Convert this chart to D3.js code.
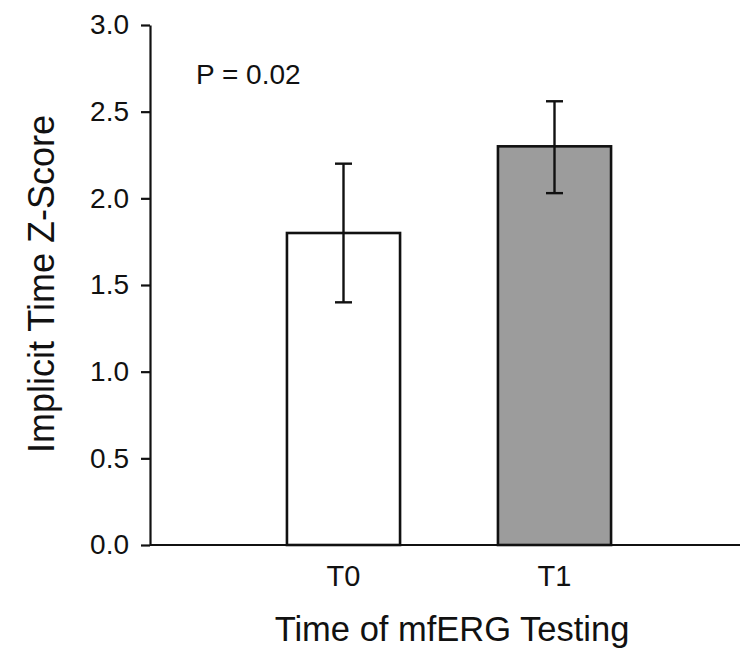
<!DOCTYPE html>
<html>
<head>
<meta charset="utf-8">
<script src="https://cdn.jsdelivr.net/npm/d3@7"></script>
<style>
  html, body { margin: 0; padding: 0; background: #fff; }
  svg text { font-family: "Liberation Sans", Arial, sans-serif; fill: #111; }
</style>
</head>
<body>
<svg id="chart" width="753" height="662"></svg>
<script>
const categories = ["T0", "T1"];
const means = [1.8, 2.3];
const errLow = [1.4, 2.03];
const errHigh = [2.2, 2.56];
const fills = ["#ffffff", "#9c9c9c"];
const yTicks = [0.0, 0.5, 1.0, 1.5, 2.0, 2.5, 3.0];
const pLabel = "P = 0.02";
const xTitle = "Time of mfERG Testing";
const yTitle = "Implicit Time Z-Score";

const svg = d3.select("#chart");
const plotLeft = 150, plotRight = 740, plotTop = 25, plotBottom = 545;

const y = d3.scaleLinear().domain([0, 3]).range([plotBottom, plotTop]);
const x = d3.scaleBand().domain(categories).range([238, 660])
  .paddingInner(0.464).paddingOuter(0.232);

// bars
svg.selectAll("rect.bar").data(categories).enter().append("rect")
  .attr("class", "bar")
  .attr("x", d => x(d))
  .attr("y", (d, i) => y(means[i]))
  .attr("width", x.bandwidth())
  .attr("height", (d, i) => y(0) - y(means[i]))
  .attr("fill", (d, i) => fills[i])
  .attr("stroke", "#111")
  .attr("stroke-width", 2.6);

// error bars
const cap = 8.5;
categories.forEach((c, i) => {
  const cx = x(c) + x.bandwidth() / 2;
  const g = svg.append("g").attr("stroke", "#111").attr("stroke-width", 2.4);
  g.append("line").attr("x1", cx).attr("x2", cx).attr("y1", y(errLow[i])).attr("y2", y(errHigh[i]));
  g.append("line").attr("x1", cx - cap).attr("x2", cx + cap).attr("y1", y(errLow[i])).attr("y2", y(errLow[i]));
  g.append("line").attr("x1", cx - cap).attr("x2", cx + cap).attr("y1", y(errHigh[i])).attr("y2", y(errHigh[i]));
});

// y axis
const yAxis = d3.axisLeft(y).tickValues(yTicks).tickFormat(d3.format(".1f"))
  .tickSize(9).tickSizeOuter(0).tickPadding(12);
const gy = svg.append("g").attr("transform", `translate(${plotLeft},0)`).call(yAxis);
gy.select(".domain").attr("stroke", "#111").attr("stroke-width", 2.2);
gy.selectAll(".tick line").attr("stroke", "#111").attr("stroke-width", 2.2);
gy.selectAll(".tick text").attr("font-size", 28).attr("fill", "#111")
  .attr("font-family", "Liberation Sans, Arial, sans-serif");

// x axis line
const xAxis = d3.axisBottom(x).tickSize(0).tickPadding(20);
const gx = svg.append("g").attr("transform", `translate(0,${plotBottom})`).call(xAxis);
gx.select(".domain").attr("d", `M${plotLeft},0H${plotRight}`).attr("stroke", "#111").attr("stroke-width", 2.2);
gx.selectAll(".tick text").attr("font-size", 29).attr("fill", "#111")
  .attr("font-family", "Liberation Sans, Arial, sans-serif");

// annotation
svg.append("text").attr("x", 196).attr("y", 84).attr("font-size", 28).text(pLabel);

// titles
svg.append("text").attr("x", 452).attr("y", 641).attr("text-anchor", "middle")
  .attr("font-size", 34.5).text(xTitle);
svg.append("text").attr("transform", "translate(54,284) rotate(-90)")
  .attr("text-anchor", "middle").attr("font-size", 36)
  .text(yTitle);
</script>
</body>
</html>
